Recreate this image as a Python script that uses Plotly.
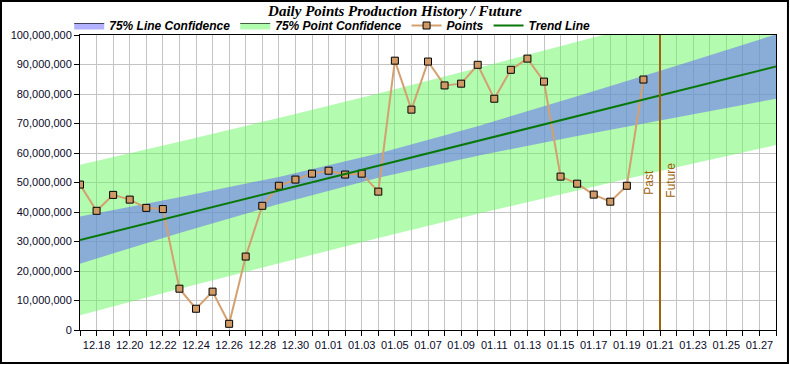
import plotly.graph_objects as go

# ---- data -------------------------------------------------------------
dates = [
    "2023-12-17", "2023-12-18", "2023-12-19", "2023-12-20", "2023-12-21",
    "2023-12-22", "2023-12-23", "2023-12-24", "2023-12-25", "2023-12-26",
    "2023-12-27", "2023-12-28", "2023-12-29", "2023-12-30", "2023-12-31",
    "2024-01-01", "2024-01-02", "2024-01-03", "2024-01-04", "2024-01-05",
    "2024-01-06", "2024-01-07", "2024-01-08", "2024-01-09", "2024-01-10",
    "2024-01-11", "2024-01-12", "2024-01-13", "2024-01-14", "2024-01-15",
    "2024-01-16", "2024-01-17", "2024-01-18", "2024-01-19", "2024-01-20",
]
points = [
    49_300_000, 40_400_000, 45_800_000, 44_200_000, 41_400_000,
    41_000_000, 14_000_000, 7_200_000, 13_000_000, 2_100_000,
    24_900_000, 42_100_000, 48_900_000, 51_000_000, 53_000_000,
    54_000_000, 52_700_000, 53_000_000, 46_900_000, 91_300_000,
    74_700_000, 91_000_000, 82_900_000, 83_500_000, 89_900_000,
    78_400_000, 88_200_000, 92_000_000, 84_200_000, 52_000_000,
    49_600_000, 45_900_000, 43_500_000, 48_900_000, 84_900_000,
]

band_dates = ["2023-12-17", "2023-12-23", "2023-12-29", "2024-01-04",
              "2024-01-10", "2024-01-16", "2024-01-22", "2024-01-28"]
trend = [30_500_000, 38_900_000, 47_300_000, 55_700_000,
         64_100_000, 72_500_000, 80_900_000, 89_300_000]
line_conf_low = [22_500_000, 32_900_000, 42_700_000, 51_600_000,
                 59_100_000, 65_800_000, 72_200_000, 78_400_000]
line_conf_high = [38_500_000, 45_000_000, 51_900_000, 59_800_000,
                  69_100_000, 79_200_000, 89_600_000, 100_200_000]
point_conf_low = [5_000_000, 14_000_000, 22_700_000, 31_200_000,
                  39_400_000, 47_400_000, 55_200_000, 62_700_000]
point_conf_high = [56_000_000, 63_800_000, 71_900_000, 80_200_000,
                   88_800_000, 97_600_000, 106_600_000, 115_900_000]

future_date = "2024-01-21"
x_range = ["2023-12-17", "2024-01-28"]
title_text = "Daily Points Production History / Future"

# ---- styles -----------------------------------------------------------
GREEN_FILL = "rgba(102,248,96,0.5)"
BLUE_FILL = "rgba(96,96,255,0.5)"
POINT_LINE = "#d4a070"
POINT_MARK = "#cf9a66"
TREND = "#087808"
FUTURE = "#a0620a"
GRID = "#c4c4c4"
TICKFONT = dict(family="Liberation Sans, Arial", size=11, color="#0a0a28")
LEGFONT = dict(family="Liberation Sans, Arial", size=12, color="#000000",
               weight="bold", style="italic")

fig = go.Figure()

# bands (no legend)
fig.add_trace(go.Scatter(
    x=band_dates + band_dates[::-1],
    y=point_conf_high + point_conf_low[::-1],
    fill="toself", fillcolor=GREEN_FILL, line=dict(width=0),
    mode="lines", showlegend=False, hoverinfo="skip"))
fig.add_trace(go.Scatter(
    x=band_dates + band_dates[::-1],
    y=line_conf_high + line_conf_low[::-1],
    fill="toself", fillcolor=BLUE_FILL, line=dict(width=0),
    mode="lines", showlegend=False, hoverinfo="skip"))

# legend entries for bands
fig.add_trace(go.Scatter(
    x=[None], y=[None], name="75% Line Confidence", fill="toself",
    fillcolor="rgb(178,178,255)", mode="lines",
    line=dict(color="#404060", width=1)))
fig.add_trace(go.Scatter(
    x=[None], y=[None], name="75% Point Confidence", fill="toself",
    fillcolor="rgb(178,252,176)", mode="lines",
    line=dict(color="#406040", width=1)))

fig.add_trace(go.Scatter(
    x=dates, y=points, name="Points", mode="lines+markers",
    line=dict(color=POINT_LINE, width=2),
    marker=dict(symbol="square", size=7, color=POINT_MARK,
                line=dict(color="#000000", width=1))))

fig.add_trace(go.Scatter(
    x=band_dates, y=trend, name="Trend Line", mode="lines",
    line=dict(color=TREND, width=2)))

# past / future divider
fig.add_shape(type="line", xref="x", yref="paper", x0=future_date,
              x1=future_date, y0=0, y1=1, line=dict(color=FUTURE, width=2))
fig.add_annotation(x=future_date, y=45_000_000, xref="x", yref="y",
                   text="Past", textangle=-90, showarrow=False,
                   xanchor="right", yanchor="bottom", xshift=-2,
                   font=dict(family="Liberation Sans, Arial", size=12,
                             color=FUTURE))
fig.add_annotation(x=future_date, y=44_000_000, xref="x", yref="y",
                   text="Future", textangle=-90, showarrow=False,
                   xanchor="left", yanchor="bottom", xshift=2,
                   font=dict(family="Liberation Sans, Arial", size=12,
                             color=FUTURE))

# outer frame
fig.add_shape(type="rect", xref="paper", yref="paper",
              x0=-0.1135, x1=1.0172, y0=-0.1119, y1=1.1153,
              line=dict(color="#000000", width=2), layer="above")

fig.update_layout(
    width=790, height=365,
    margin=dict(l=80, r=14, t=35, b=35, autoexpand=False),
    paper_bgcolor="white", plot_bgcolor="white",
    title=dict(text=title_text, x=0.5, xref="container", xanchor="center",
               y=1 - 11 / 365, yref="container", yanchor="middle",
               font=dict(family="Liberation Serif, Times New Roman", size=15,
                         color="#000000", weight="bold", style="italic")),
    legend=dict(orientation="h", x=-0.0155, y=(330 - 25.5) / 295,
                xanchor="left", yanchor="middle", font=LEGFONT,
                bgcolor="rgba(0,0,0,0)", traceorder="normal", itemwidth=30),
    showlegend=True,
)

fig.update_xaxes(
    type="date", range=x_range, tickformat="%m.%d",
    tick0="2023-12-18", dtick=2 * 86400000,
    ticks="outside", ticklen=5, tickcolor="#000000",
    showgrid=True, gridcolor=GRID, gridwidth=1,
    minor=dict(dtick=86400000, tick0="2023-12-17", ticks="outside",
               ticklen=5, tickcolor="#000000", showgrid=True,
               gridcolor=GRID, gridwidth=1),
    showline=True, linecolor="#000000", linewidth=1, mirror=True,
    tickfont=TICKFONT, zeroline=False,
)
fig.update_yaxes(
    range=[0, 100_000_000], dtick=10_000_000, tickformat=",d",
    ticks="outside", ticklen=5, tickcolor="#000000",
    showgrid=True, gridcolor=GRID, gridwidth=1,
    showline=True, linecolor="#000000", linewidth=1, mirror=True,
    tickfont=TICKFONT, zeroline=False,
)

fig.write_html(
    "out.html",
    config={"displayModeBar": False},
    post_script="document.body.style.margin='0px';"
                "document.body.style.overflow='hidden';",
)
